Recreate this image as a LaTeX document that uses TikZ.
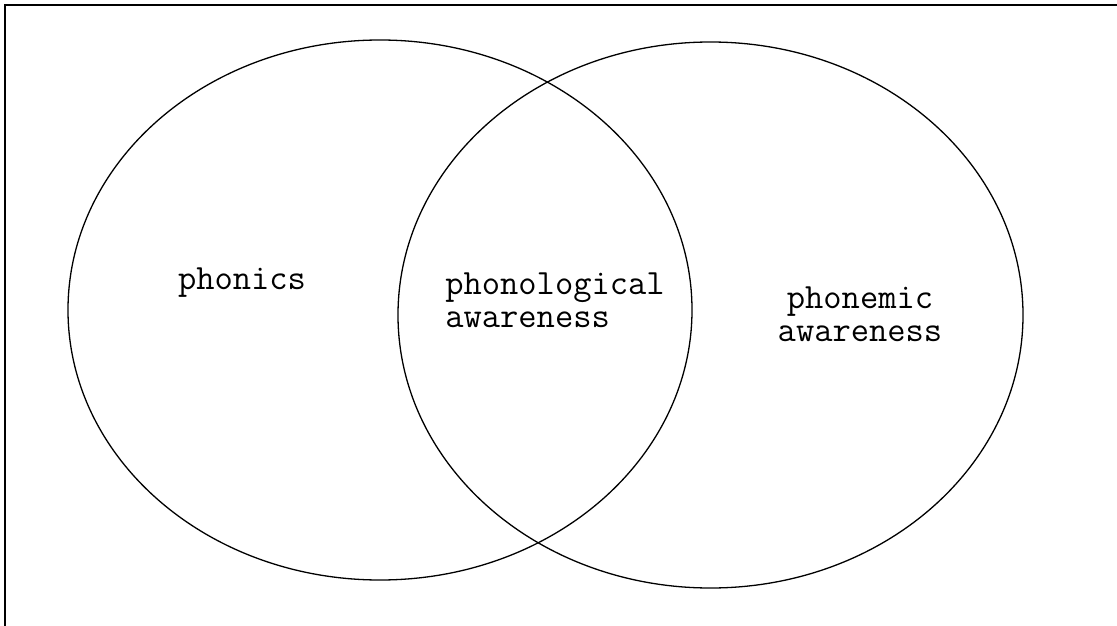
\documentclass[tikz,border=0pt]{standalone}
\usepackage{fontspec}
\begin{document}
\begin{tikzpicture}[x=1pt,y=-1pt,
  venn/.style={draw=black,line width=1.3pt},
  frameline/.style={draw=black,line width=2pt},
  lbl/.style={font=\ttfamily\fontsize{35.5}{33}\selectfont,inner sep=0pt}]
\useasboundingbox (0,0) rectangle (1117,626);
\coordinate (tl) at (5,5);
\coordinate (tr) at (1117,5);
\coordinate (bl) at (5,626);
\draw[frameline] (tr) -- (tl) -- (bl);
\draw[venn] (380,310) ellipse [x radius=312, y radius=270];
\draw[venn] (710.5,315) ellipse [x radius=312.5, y radius=273];
\node[lbl] (phonics) at (242,283) {phonics};
\node[lbl,align=left] (phonological) at (555,300) {phonological\\awareness};
\node[lbl,align=center] (phonemic) at (860,314) {phonemic\\awareness};
\end{tikzpicture}
\end{document}
